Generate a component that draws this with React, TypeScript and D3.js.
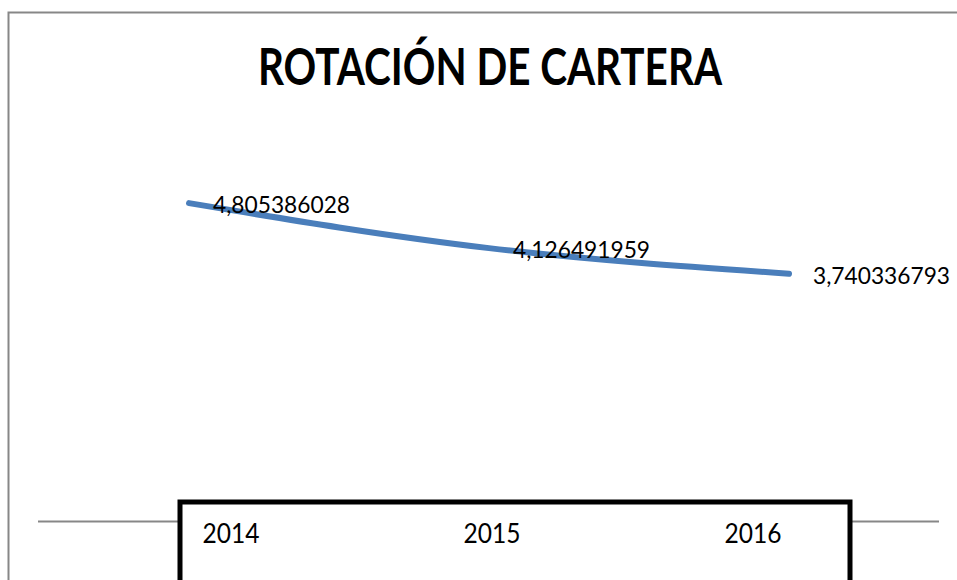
import React from "react";
import * as d3 from "d3";

const title = "ROTACIÓN DE CARTERA";
const categories = ["2014", "2015", "2016"];
const values = [4.805386028, 4.126491959, 3.740336793];
const valueLabels = ["4,805386028", "4,126491959", "3,740336793"];

const W = 957;
const H = 580;

export default function App() {
  const x = d3.scalePoint<string>().domain(categories).range([189, 789]);
  const xLab = d3.scalePoint<string>().domain(categories).range([231, 753]);
  const y = d3.scaleLinear().domain([0, 6]).range([521.5, 124]);

  const line = d3
    .line<number>()
    .x((_, i) => x(categories[i]) as number)
    .y((d) => y(d))
    .curve(d3.curveMonotoneX);

  const font = "Lato, 'Open Sans', sans-serif";

  return (
    <svg
      width={W}
      height={H}
      style={{ position: "absolute", left: 0, top: 0, background: "#fff" }}
    >
      <rect x={0} y={0} width={W} height={H} fill="#fff" />
      <rect
        x={8.5}
        y={12.5}
        width={W + 20}
        height={H + 20}
        fill="none"
        stroke="#878787"
        strokeWidth={2}
      />
      <text
        x={490}
        y={85}
        textAnchor="middle"
        fontFamily={font}
        fontWeight="bold"
        fontSize={52}
        textLength={464}
        lengthAdjust="spacingAndGlyphs"
        fill="#000"
      >
        {title}
      </text>

      <line x1={38} x2={939} y1={y(0)} y2={y(0)} stroke="#878787" strokeWidth={2} />

      <path
        d={line(values) || ""}
        fill="none"
        stroke="#4a7ebb"
        strokeWidth={6}
        strokeLinecap="round"
        strokeLinejoin="round"
      />

      {values.map((v, i) => (
        <text
          key={"v" + i}
          x={(x(categories[i]) as number) + 24}
          y={y(v) + 10}
          fontFamily={font}
          fontSize={24}
          textLength={137}
          lengthAdjust="spacingAndGlyphs"
          fill="#000"
        >
          {valueLabels[i]}
        </text>
      ))}

      <rect
        x={180}
        y={502}
        width={670}
        height={120}
        fill="#fff"
        stroke="#000"
        strokeWidth={5}
      />
      {categories.map((c) => (
        <text
          key={c}
          x={xLab(c) as number}
          y={543}
          textAnchor="middle"
          fontFamily={font}
          fontSize={27}
          textLength={57}
          lengthAdjust="spacingAndGlyphs"
          fill="#000"
        >
          {c}
        </text>
      ))}
    </svg>
  );
}
